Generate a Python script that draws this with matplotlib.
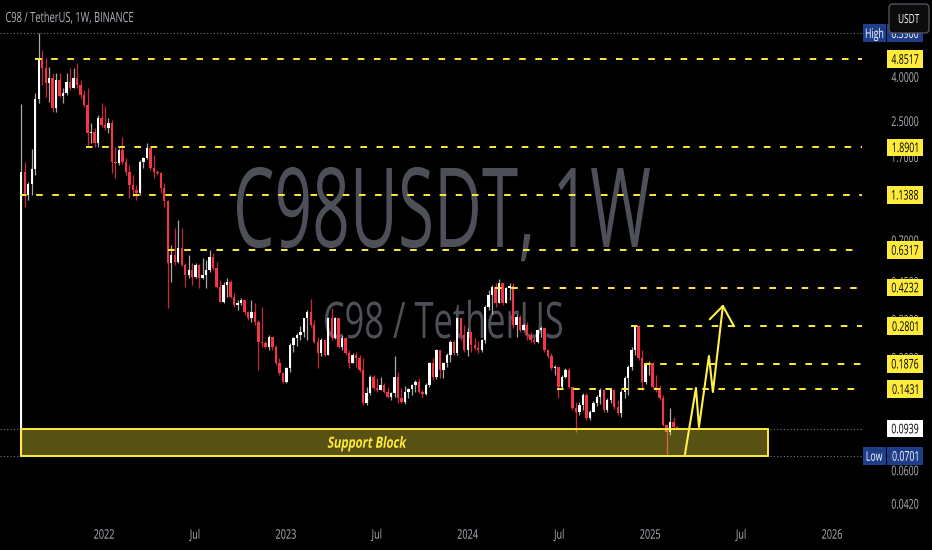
import numpy as np
import pandas as pd
import matplotlib
matplotlib.use('Agg')
import matplotlib.pyplot as plt
import matplotlib.dates as mdates
from matplotlib.textpath import TextPath
from matplotlib.font_manager import FontProperties
from matplotlib.patches import PathPatch, Rectangle, FancyBboxPatch
from matplotlib.transforms import Affine2D

# weekly candles C98/USDT, first bar week of 2021-07-19
first_week = '2021-07-19'
first_open = 0.075
closes = [1.45, 1.14, 1.28, 1.50, 3.17, 4.90, 4.41, 3.75, 3.96, 2.87,
          3.88, 3.27, 3.38, 3.80, 3.56, 3.96, 3.68, 3.30, 2.97, 2.20,
          2.23, 1.98, 2.58, 2.40, 2.32, 2.45, 1.62, 1.60, 1.84, 1.62,
          1.45, 1.26, 1.20, 1.16, 1.62, 1.68, 1.88, 1.52, 1.45, 1.43,
          1.22, 1.06, 0.550, 0.599, 0.556, 0.645, 0.538, 0.484, 0.510, 0.473,
          0.538, 0.468, 0.484, 0.510, 0.586, 0.521, 0.425, 0.362, 0.435, 0.449,
          0.382, 0.351, 0.359, 0.370, 0.326, 0.306, 0.326, 0.293, 0.237, 0.234,
          0.224, 0.249, 0.224, 0.189, 0.170, 0.154, 0.179, 0.229, 0.247, 0.255,
          0.263, 0.306, 0.326, 0.284, 0.237, 0.211, 0.242, 0.206, 0.306, 0.247,
          0.306, 0.224, 0.247, 0.211, 0.189, 0.206, 0.200, 0.175, 0.123, 0.137,
          0.163, 0.145, 0.142, 0.150, 0.139, 0.132, 0.137, 0.163, 0.130, 0.125,
          0.139, 0.143, 0.150, 0.154, 0.139, 0.136, 0.150, 0.189, 0.163, 0.217,
          0.175, 0.189, 0.206, 0.237, 0.211, 0.306, 0.255, 0.217, 0.263, 0.229,
          0.222, 0.217, 0.242, 0.345, 0.389, 0.425, 0.359, 0.444, 0.359, 0.421,
          0.430, 0.284, 0.309, 0.269, 0.284, 0.255, 0.242, 0.237, 0.269, 0.275,
          0.217, 0.203, 0.179, 0.181, 0.146, 0.163, 0.175, 0.146, 0.117, 0.112,
          0.121, 0.134, 0.105, 0.112, 0.123, 0.132, 0.142, 0.1145, 0.127, 0.142,
          0.118, 0.111, 0.139, 0.161, 0.181, 0.217, 0.280, 0.199, 0.154, 0.185,
          0.189, 0.146, 0.1417, 0.130, 0.098, 0.0905, 0.1007, 0.0955, 0.0939]
highs = [3.00, 1.62, 1.31, 1.86, 3.38, 6.39, 5.34, 4.90, 4.46, 4.18,
         4.18, 4.18, 3.56, 4.18, 4.41, 4.41, 4.65, 3.88, 3.49, 3.56,
         2.45, 2.32, 2.67, 3.03, 2.93, 2.58, 2.53, 1.90, 1.88, 2.11,
         1.68, 1.56, 1.40, 1.26, 1.65, 1.70, 1.97, 1.90, 1.74, 1.48,
         1.45, 1.29, 1.08, 0.666, 0.80, 0.870, 0.80, 0.55, 0.60, 0.55,
         0.55, 0.545, 0.58, 0.568, 0.632, 0.61, 0.556, 0.459, 0.449, 0.468,
         0.459, 0.40, 0.370, 0.378, 0.37, 0.33, 0.370, 0.359, 0.299, 0.345,
         0.24, 0.255, 0.25, 0.229, 0.199, 0.172, 0.181, 0.234, 0.249, 0.26,
         0.28, 0.306, 0.333, 0.376, 0.299, 0.249, 0.247, 0.242, 0.309, 0.340,
         0.309, 0.306, 0.255, 0.25, 0.217, 0.211, 0.213, 0.206, 0.199, 0.147,
         0.166, 0.166, 0.161, 0.163, 0.152, 0.147, 0.139, 0.203, 0.172, 0.145,
         0.148, 0.145, 0.151, 0.158, 0.161, 0.142, 0.152, 0.191, 0.199, 0.219,
         0.217, 0.191, 0.211, 0.242, 0.242, 0.306, 0.306, 0.284, 0.275, 0.263,
         0.247, 0.240, 0.245, 0.351, 0.412, 0.435, 0.444, 0.463, 0.445, 0.425,
         0.444, 0.444, 0.320, 0.315, 0.290, 0.293, 0.263, 0.250, 0.270, 0.280,
         0.275, 0.220, 0.21, 0.185, 0.181, 0.166, 0.179, 0.179, 0.146, 0.125,
         0.125, 0.137, 0.137, 0.1145, 0.126, 0.134, 0.1448, 0.142, 0.130, 0.1448,
         0.143, 0.128, 0.142, 0.165, 0.185, 0.224, 0.2801, 0.284, 0.217, 0.191,
         0.193, 0.191, 0.166, 0.1495, 0.134, 0.0985, 0.117, 0.106, 0.0965]
lows = [0.072, 1.00, 1.08, 1.14, 1.41, 3.03, 3.68, 3.24, 3.07, 2.76,
        2.76, 3.24, 3.03, 3.30, 3.49, 3.56, 3.56, 3.20, 2.90, 1.94,
        1.98, 1.90, 1.90, 2.35, 2.28, 2.20, 1.44, 1.36, 1.56, 1.58,
        1.41, 1.10, 1.12, 1.08, 1.14, 1.52, 1.66, 1.48, 1.36, 1.40,
        1.16, 1.00, 0.340, 0.449, 0.54, 0.55, 0.53, 0.425, 0.468, 0.435,
        0.468, 0.421, 0.465, 0.421, 0.50, 0.51, 0.421, 0.362, 0.359, 0.382,
        0.378, 0.343, 0.333, 0.351, 0.316, 0.299, 0.293, 0.284, 0.175, 0.224,
        0.222, 0.217, 0.217, 0.185, 0.166, 0.153, 0.153, 0.172, 0.213, 0.227,
        0.242, 0.249, 0.242, 0.278, 0.234, 0.179, 0.203, 0.203, 0.206, 0.242,
        0.245, 0.222, 0.217, 0.206, 0.179, 0.189, 0.181, 0.172, 0.121, 0.121,
        0.134, 0.142, 0.139, 0.142, 0.137, 0.130, 0.127, 0.132, 0.123, 0.123,
        0.122, 0.130, 0.134, 0.138, 0.137, 0.130, 0.134, 0.146, 0.158, 0.160,
        0.161, 0.161, 0.181, 0.191, 0.206, 0.206, 0.242, 0.213, 0.203, 0.213,
        0.217, 0.211, 0.213, 0.234, 0.333, 0.320, 0.345, 0.359, 0.351, 0.359,
        0.370, 0.275, 0.249, 0.263, 0.269, 0.242, 0.237, 0.232, 0.234, 0.249,
        0.213, 0.199, 0.175, 0.166, 0.130, 0.1448, 0.161, 0.1448, 0.1145, 0.0905,
        0.1085, 0.1145, 0.1029, 0.1029, 0.112, 0.119, 0.122, 0.112, 0.112, 0.123,
        0.116, 0.1085, 0.106, 0.130, 0.134, 0.175, 0.206, 0.195, 0.142, 0.151,
        0.166, 0.1448, 0.139, 0.127, 0.096, 0.0701, 0.088, 0.093, 0.093]

# horizontal levels drawn on the chart, with the date each one starts
levels = [4.8517, 1.8901, 1.1388, 0.6317, 0.4232, 0.2801, 0.1876, 0.1431]
level_starts = ['2021-08-16', '2021-11-26', '2021-07-17', '2022-05-09',
                '2024-02-24', '2024-11-23', '2024-12-19', '2024-06-28']
axis_ticks = [4.0, 2.5, 1.7, 0.7, 0.45, 0.3, 0.2, 0.06, 0.042]
x_ticks = ['2022-01-01', '2022-07-01', '2023-01-01', '2023-07-01', '2024-01-01',
           '2024-07-01', '2025-01-01', '2025-07-01', '2026-01-01']
x_tick_labels = ['2022', 'Jul', '2023', 'Jul', '2024', 'Jul', '2025', 'Jul', '2026']
high_price = 6.39
low_price = 0.0701
last_price = 0.0939
support_top = 0.0939
support_bottom = 0.0701
support_end = '2025-08-25'
support_label_date = '2023-06-12'
arrow_dates = ['2025-03-12', '2025-04-03', '2025-04-09', '2025-04-29', '2025-05-07', '2025-05-27']
arrow_prices = [0.0716, 0.1448, 0.0955, 0.2037, 0.1387, 0.3473]
head_dates = ['2025-05-01', '2025-05-27', '2025-06-18']
head_prices = [0.302, 0.3473, 0.2806]

UP = '#ffffff'
DOWN = '#f23645'
YEL = '#ffeb3b'
GREY = '#b2b5be'
H = 550

fig = plt.figure(figsize=(9.32, 5.5), dpi=100, facecolor='black')
ax = fig.add_axes([0, 0, 862 / 932, 1])
ax.set_facecolor('black')
ax.patch.set_alpha(0)
ax.set_yscale('log')
anchor = mdates.date2num(pd.Timestamp('2022-01-01'))
px_day = 182 / 365.25
x_left = anchor - 104 / px_day
x_right = anchor + (862 - 104) / px_day
decade_px = 215.7
y_top = 10 ** (np.log10(4.8517) + 59 / decade_px)
y_bot = 10 ** (np.log10(4.8517) - (H - 59) / decade_px)
ax.set_xlim(x_left, x_right)
ax.set_ylim(y_bot, y_top)
ax.set_axis_off()


def yd(price):
    return ax.transData.transform((x_left, price))[1]


def xd(date):
    return ax.transData.transform((mdates.date2num(pd.Timestamp(date)), 1.0))[0]


def draw_text(s, x, y, cap, color, sx=0.66, width=None, ha='center', va='center',
              weight='normal', slant=0, zorder=10):
    # text as a path so it can be squeezed like the narrow screenshot font
    fp = FontProperties(family=['Open Sans', 'DejaVu Sans'], weight=weight)
    path = TextPath((0, 0), s, size=cap / 0.714, prop=fp)
    ext = path.get_extents()
    if width is not None:
        sx = width / ext.width
    w = ext.width * sx
    left = x - {'left': 0, 'center': w / 2, 'right': w}[ha]
    base = y - {'baseline': 0, 'center': cap / 2, 'top': cap}[va]
    tr = Affine2D().translate(-ext.x0, 0).skew_deg(slant, 0).scale(sx, 1).translate(left, base)
    ax.add_artist(PathPatch(path, transform=tr, facecolor=color, edgecolor='none',
                            lw=0, zorder=zorder, clip_on=False))


def box(x, yc, w, h, color, zorder=11):
    ax.add_artist(Rectangle((x, yc - h / 2), w, h, transform=Affine2D(), facecolor=color,
                            edgecolor='none', zorder=zorder, clip_on=False))


# watermark
draw_text('C98USDT, 1W', 443.5, H - 247, 79, '#4d5059', width=413, va='baseline', zorder=0.5)
draw_text('C98 / TetherUS', 443.5, H - 338, 36, '#4d5059', width=237, va='baseline', zorder=0.5)

# candles
dates = pd.date_range(first_week, periods=len(closes), freq='7D')
x = mdates.date2num(dates)
c = np.array(closes)
o = np.array([first_open] + closes[:-1])
hi = np.array(highs)
lo = np.array(lows)
up = c >= o
body_low = np.minimum(o, c)
body_h = np.maximum(np.abs(c - o), body_low * 0.015)
ax.vlines(x, lo, hi, colors=np.where(up, '#a8a8a8', '#c8283c'), lw=0.9, zorder=1.9)
ax.bar(x, body_h, bottom=body_low, width=4.8, color=np.where(up, UP, DOWN), lw=0, zorder=2)

# dotted price lines
for p in [high_price, last_price, low_price]:
    ax.axhline(p, color='#787b86', lw=0.8, ls=(0, (1, 2)), zorder=1.5)

# dashed levels
for lvl, start in zip(levels, level_starts):
    ax.plot([mdates.date2num(pd.Timestamp(start)), x_right], [lvl, lvl], color=YEL,
            lw=1.4, dashes=(3.4, 4.9), zorder=3)

# support block
x0 = x[0] - 1
x1 = mdates.date2num(pd.Timestamp(support_end))
ax.add_patch(Rectangle((x0, support_bottom), x1 - x0, support_top - support_bottom,
                       facecolor=(1, 0.92, 0.23, 0.35), edgecolor=YEL, lw=1.4, zorder=4))
draw_text('Support Block', xd(support_label_date), yd(np.sqrt(support_top * support_bottom)),
          11, YEL, width=78, weight='bold', slant=12, zorder=6)

# projected path
ax.plot(mdates.date2num(pd.to_datetime(arrow_dates)), arrow_prices, color='#fff04a', lw=1.5, zorder=5)
ax.plot(mdates.date2num(pd.to_datetime(head_dates)), head_prices, color='#fff04a', lw=1.5, zorder=5)

# header
draw_text('C98 / TetherUS, 1W, BINANCE', 6, H - 17, 10, GREY, width=127, ha='left')

# price scale
for t in axis_ticks:
    draw_text(f'{t:.4f}', 905, yd(t), 9.5, GREY)
for lvl in levels:
    box(887, yd(lvl), 36, 17.6, YEL)
    draw_text(f'{lvl:.4f}', 905, yd(lvl), 9.5, 'black', zorder=12)
box(887, yd(last_price), 36, 17.6, 'white')
draw_text(f'{last_price:.4f}', 905, yd(last_price), 9.5, 'black', zorder=12)
box(863, yd(low_price), 23, 17.6, '#1e3e8a')
box(887, yd(low_price), 36, 17.6, '#1e3e8a')
draw_text('Low', 874.5, yd(low_price), 9.5, 'white', zorder=12)
draw_text(f'{low_price:.4f}', 905, yd(low_price), 9.5, 'white', zorder=12)
box(863, yd(high_price), 23, 18, '#1e3e8a')
box(887, yd(high_price), 36, 18, '#1e3e8a')
draw_text('High', 874.5, yd(high_price), 9.5, 'white', zorder=12)
draw_text(f'{high_price:.4f}', 905, yd(high_price), 9.5, 'white', zorder=12)
ax.add_artist(FancyBboxPatch((889, H - 33), 40, 29, boxstyle='round,pad=0,rounding_size=4',
                             transform=Affine2D(), facecolor='#0c0c0c', edgecolor='#50535e',
                             lw=1, zorder=14, clip_on=False))
draw_text('USDT', 909, H - 18.5, 9, 'white', zorder=15)

# time scale
for d, lab in zip(x_ticks, x_tick_labels):
    draw_text(lab, xd(d), H - 534, 9.3, GREY, sx=0.7)

fig.savefig('out.png', dpi=100, facecolor='black')
